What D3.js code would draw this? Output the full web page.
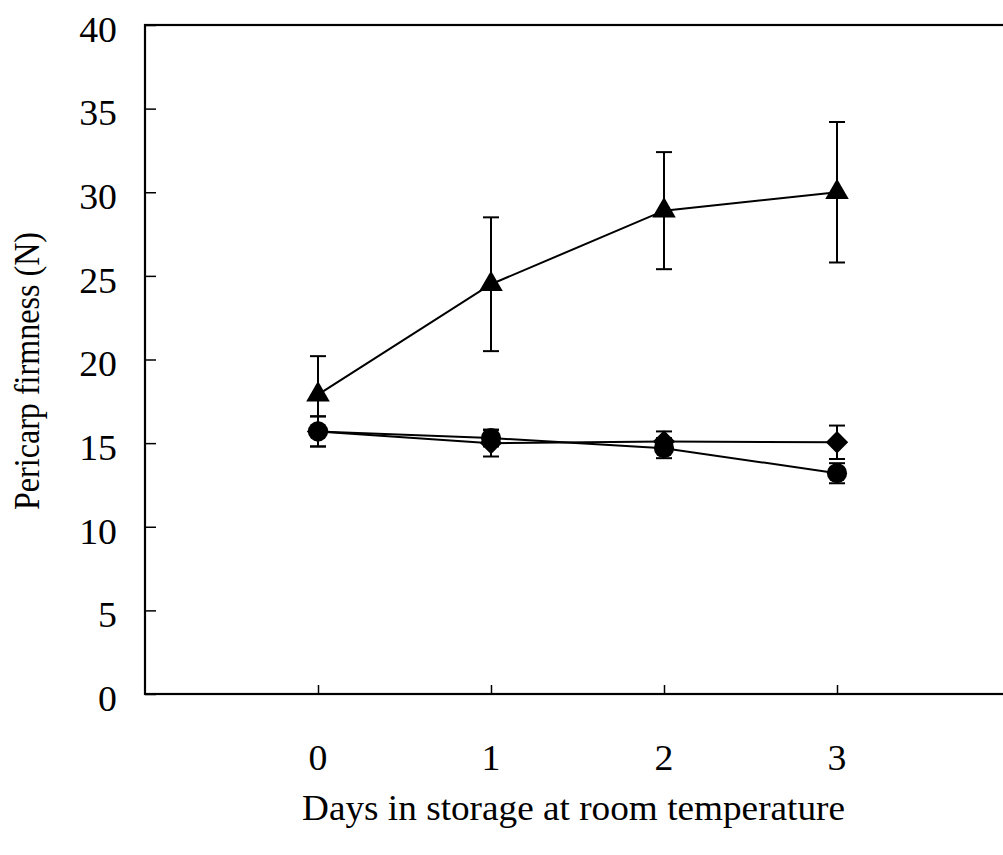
<!DOCTYPE html>
<html><head><meta charset="utf-8">
<script src="https://cdn.jsdelivr.net/npm/d3@7"></script>
<style>html,body{margin:0;padding:0;background:#fff}svg{display:block}</style>
</head><body><svg id="c" width="1003" height="855"></svg>
<script>
const days = [0, 1, 2, 3];
const yTicks = [0, 5, 10, 15, 20, 25, 30, 35, 40];
const triangleMean = [17.9, 24.5, 28.9, 30.0];
const triangleErr  = [2.3, 4.0, 3.5, 4.2];
const diamondMean  = [15.7, 15.0, 15.1, 15.05];
const diamondErr   = [0.9, 0.8, 0.6, 1.0];
const circleMean   = [15.7, 15.3, 14.7, 13.2];
const circleErr    = [0.9, 0.5, 0.6, 0.6];
const xTitle = "Days in storage at room temperature";
const yTitle = "Pericarp firmness (N)";

const svg = d3.select("#c");
const L = 145, T = 25, B = 694;
const x = d3.scaleLinear().domain([-1, 4]).range([L, L + 5 * 173]);
const y = d3.scaleLinear().domain([0, 40]).range([B, T]);
const font = "'Liberation Serif','Times New Roman',serif";

// frame
svg.append("rect").attr("x", L).attr("y", T).attr("width", x(4) - L).attr("height", B - T)
  .attr("fill", "none").attr("stroke", "#000").attr("stroke-width", 2.2);

// y axis
const ya = svg.append("g").attr("transform", `translate(${L},0)`)
  .call(d3.axisRight(y).tickValues(yTicks).tickSize(11).tickFormat(""));
ya.select(".domain").remove();
ya.selectAll("line").attr("stroke", "#000").attr("stroke-width", 1.5);
svg.append("g").selectAll("text").data(yTicks).join("text")
  .attr("transform", d => `translate(117,${y(d)}) scale(1.08,1)`)
  .attr("dy", "0.48em").attr("text-anchor", "end")
  .attr("font-family", font).attr("font-size", 35).text(d => d);

// x axis
const xa = svg.append("g").attr("transform", `translate(0,${B})`)
  .call(d3.axisTop(x).tickValues(days).tickSize(9).tickFormat(""));
xa.select(".domain").remove();
xa.selectAll("line").attr("stroke", "#000").attr("stroke-width", 1.5);
svg.append("g").selectAll("text").data(days).join("text")
  .attr("transform", d => `translate(${x(d)},770) scale(1.08,1)`).attr("text-anchor", "middle")
  .attr("font-family", font).attr("font-size", 35).text(d => d);

// titles
svg.append("text").attr("x", 302).attr("y", 820)
  .attr("textLength", 543).attr("lengthAdjust", "spacingAndGlyphs")
  .attr("font-family", font).attr("font-size", 36).text(xTitle);
svg.append("text").attr("transform", "translate(39,0) rotate(-90)")
  .attr("x", -510).attr("textLength", 278).attr("lengthAdjust", "spacingAndGlyphs")
  .attr("font-family", font).attr("font-size", 35).text(yTitle);

const series = [
  {m: circleMean, e: circleErr, sym: d3.symbolCircle, size: 320, rot: 0},
  {m: diamondMean, e: diamondErr, sym: d3.symbolSquare, size: 250, rot: 45},
  {m: triangleMean, e: triangleErr, sym: d3.symbolTriangle, size: 240, rot: 0},
];
const line = d3.line().x((d, i) => x(days[i])).y(d => y(d));
series.forEach(s => {
  svg.append("path").attr("d", line(s.m)).attr("fill", "none").attr("stroke", "#000").attr("stroke-width", 2);
});
series.forEach(s => {
  const g = svg.append("g").attr("stroke", "#000").attr("stroke-width", 2);
  s.m.forEach((v, i) => {
    const cx = x(days[i]);
    g.append("line").attr("x1", cx).attr("x2", cx).attr("y1", y(v - s.e[i])).attr("y2", y(v + s.e[i]));
    [v - s.e[i], v + s.e[i]].forEach(w => g.append("line").attr("x1", cx - 8).attr("x2", cx + 8).attr("y1", y(w)).attr("y2", y(w)));
  });
});
series.forEach(s => {
  svg.append("g").selectAll("path").data(s.m).join("path")
    .attr("transform", (d, i) => `translate(${x(days[i])},${y(d)}) rotate(${s.rot})`)
    .attr("d", d3.symbol().type(s.sym).size(s.size)()).attr("fill", "#000");
});
</script></body></html>
